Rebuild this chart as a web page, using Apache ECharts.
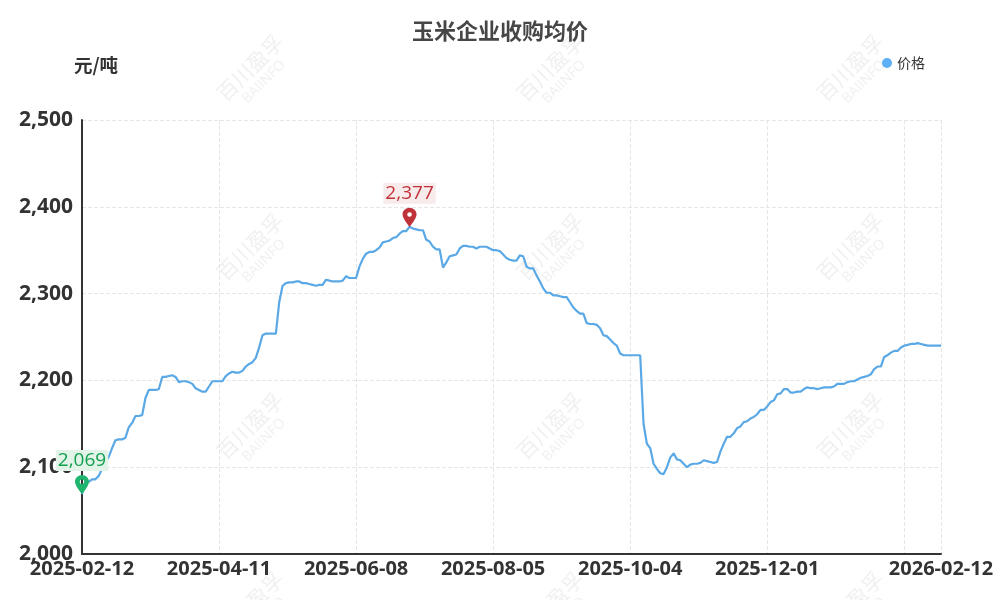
<!DOCTYPE html>
<html>
<head>
<meta charset="utf-8">
<style>html,body{margin:0;padding:0;background:#fff}#main{width:1000px;height:600px}</style>
<script src="https://cdn.jsdelivr.net/npm/echarts@6/dist/echarts.min.js"></script>
</head>
<body>
<div id="main"></div>
<script>
var dates = [
  '2025-02-12','2025-02-13','2025-02-14','2025-02-17','2025-02-18','2025-02-19','2025-02-20','2025-02-21','2025-02-24','2025-02-25','2025-02-26','2025-02-27','2025-02-28',
  '2025-03-03','2025-03-04','2025-03-05','2025-03-06','2025-03-07','2025-03-10','2025-03-11','2025-03-12','2025-03-13','2025-03-14','2025-03-17','2025-03-18','2025-03-19','2025-03-20','2025-03-21','2025-03-24','2025-03-25','2025-03-26','2025-03-27','2025-03-28','2025-03-31',
  '2025-04-01','2025-04-02','2025-04-03','2025-04-07','2025-04-08','2025-04-09','2025-04-10','2025-04-11','2025-04-14','2025-04-15','2025-04-16','2025-04-17','2025-04-18','2025-04-21','2025-04-22','2025-04-23','2025-04-24','2025-04-25','2025-04-28','2025-04-29','2025-04-30',
  '2025-05-01','2025-05-02','2025-05-05','2025-05-06','2025-05-07','2025-05-08','2025-05-09','2025-05-12','2025-05-13','2025-05-14','2025-05-15','2025-05-16','2025-05-19','2025-05-20','2025-05-21','2025-05-22','2025-05-23','2025-05-26','2025-05-27','2025-05-28','2025-05-29','2025-05-30',
  '2025-06-02','2025-06-03','2025-06-04','2025-06-05','2025-06-06','2025-06-08','2025-06-10','2025-06-11','2025-06-12','2025-06-13','2025-06-16','2025-06-17','2025-06-18','2025-06-19','2025-06-20','2025-06-23','2025-06-24','2025-06-25','2025-06-26','2025-06-27','2025-06-30',
  '2025-07-01','2025-07-02','2025-07-03','2025-07-04','2025-07-07','2025-07-08','2025-07-09','2025-07-10','2025-07-11','2025-07-14','2025-07-15','2025-07-16','2025-07-17','2025-07-18','2025-07-21','2025-07-22','2025-07-23','2025-07-24','2025-07-25','2025-07-28','2025-07-29','2025-07-30','2025-07-31',
  '2025-08-01','2025-08-04','2025-08-05','2025-08-06','2025-08-07','2025-08-08','2025-08-11','2025-08-12','2025-08-13','2025-08-14','2025-08-15','2025-08-18','2025-08-19','2025-08-20','2025-08-21','2025-08-22','2025-08-25','2025-08-26','2025-08-27','2025-08-28','2025-08-29',
  '2025-09-01','2025-09-02','2025-09-03','2025-09-04','2025-09-05','2025-09-08','2025-09-09','2025-09-10','2025-09-11','2025-09-12','2025-09-15','2025-09-16','2025-09-17','2025-09-18','2025-09-19','2025-09-22','2025-09-23','2025-09-24','2025-09-25','2025-09-26','2025-09-29','2025-09-30',
  '2025-10-04','2025-10-06','2025-10-07','2025-10-08','2025-10-09','2025-10-10','2025-10-13','2025-10-14','2025-10-15','2025-10-16','2025-10-17','2025-10-20','2025-10-21','2025-10-22','2025-10-23','2025-10-24','2025-10-27','2025-10-28','2025-10-29','2025-10-30','2025-10-31',
  '2025-11-03','2025-11-04','2025-11-05','2025-11-06','2025-11-07','2025-11-10','2025-11-11','2025-11-12','2025-11-13','2025-11-14','2025-11-17','2025-11-18','2025-11-19','2025-11-20','2025-11-21','2025-11-24','2025-11-25','2025-11-26','2025-11-27','2025-11-28',
  '2025-12-01','2025-12-02','2025-12-03','2025-12-04','2025-12-05','2025-12-08','2025-12-09','2025-12-10','2025-12-11','2025-12-12','2025-12-15','2025-12-16','2025-12-17','2025-12-18','2025-12-19','2025-12-22','2025-12-23','2025-12-24','2025-12-25','2025-12-26','2025-12-29','2025-12-30','2025-12-31',
  '2026-01-02','2026-01-05','2026-01-06','2026-01-07','2026-01-08','2026-01-09','2026-01-12','2026-01-13','2026-01-14','2026-01-15','2026-01-16','2026-01-19','2026-01-20','2026-01-21','2026-01-22','2026-01-23','2026-01-26','2026-01-27','2026-01-28','2026-01-29','2026-01-30',
  '2026-02-02','2026-02-03','2026-02-04','2026-02-05','2026-02-06','2026-02-09','2026-02-10','2026-02-11','2026-02-12'
];
var prices = [
  2069,2083,2083,2086,2086,2090,2098,2105,2112,2122,2131,2132,2132,2134,2146,2151,2159,2159,2160,2180,
  2189,2189,2189,2190,2204,2204,2205,2206,2204,2198,2199,2199,2198,2196,2191,2189,2187,2187,2193,2199,
  2199,2199,2199,2205,2208,2210,2209,2209,2211,2216,2219,2221,2226,2238,2252,2254,2254,2254,2254,2290,
  2309,2312,2313,2313,2314,2314,2312,2312,2311,2310,2309,2310,2310,2316,2315,2314,2314,2314,2315,2320,
  2318,2318,2318,2331,2340,2346,2348,2348,2350,2353,2359,2360,2361,2364,2365,2369,2372,2372,2377,2375,
  2374,2373,2373,2362,2360,2354,2351,2351,2330,2336,2343,2344,2345,2352,2355,2355,2354,2354,2352,2354,
  2354,2354,2352,2350,2350,2349,2345,2341,2339,2338,2338,2344,2343,2331,2329,2329,2321,2314,2306,2301,
  2301,2298,2298,2297,2296,2296,2290,2284,2280,2277,2277,2266,2265,2265,2264,2260,2252,2251,2247,2243,
  2240,2231,2229,2229,2229,2229,2229,2229,2150,2127,2122,2104,2098,2093,2092,2100,2111,2116,2109,2108,
  2104,2100,2103,2104,2104,2105,2108,2107,2106,2105,2106,2118,2127,2135,2135,2139,2145,2147,2152,2153,
  2156,2158,2161,2166,2166,2170,2175,2177,2184,2185,2190,2190,2186,2186,2187,2187,2190,2192,2191,2191,
  2190,2191,2192,2192,2192,2193,2196,2196,2196,2198,2199,2199,2201,2203,2204,2205,2207,2213,2216,2216,
  2227,2229,2232,2234,2234,2238,2240,2241,2242,2242,2243,2242,2241,2240,2240,2240,2240,2240
];
var seriesName = '价格';
var yTicks = [2000, 2100, 2200, 2300, 2400, 2500];

var font = '"Noto Sans CJK SC", "Noto Sans", sans-serif';
var numFont = '"Open Sans", "Noto Sans", sans-serif';
var last = dates.length - 1;
var pin = 'path://M12 0C5.4 0 0 5.4 0 12c0 8 12 22 12 22s12-14 12-22C24 5.4 18.6 0 12 0z M12 8a4 4 0 0 1 0 8a4 4 0 0 1 0-8z';

// watermark tiles behind the plot
var marks = [];
[254, 554, 854].forEach(function (x) {
    [72, 251, 430, 609].forEach(function (y) {
        marks.push({
            type: 'group', x: x, y: y, rotation: Math.PI / 4, z: 0, silent: true,
            children: [
                {type: 'text', x: 0, y: -6, style: {text: '百川盈孚', fontFamily: font, fontSize: 21, fill: '#f0f0f0', align: 'center', verticalAlign: 'middle'}},
                {type: 'text', x: 0, y: 14, style: {text: 'BAIINFO', fontFamily: numFont, fontSize: 14, fill: '#f0f0f0', align: 'center', verticalAlign: 'middle'}}
            ]
        });
    });
});

function showTick(i) {
    return i % 41 === 0 || i === last;
}

var chart = echarts.init(document.getElementById('main'));
chart.setOption({
    animation: false,
    backgroundColor: '#fff',
    textStyle: {fontFamily: font},
    title: {
        text: '玉米企业收购均价',
        left: 'center',
        top: 15,
        textStyle: {fontFamily: font, fontSize: 22, fontWeight: 'bold', color: '#464646'}
    },
    legend: {
        data: [{name: seriesName, icon: 'circle'}],
        right: 70,
        top: 51,
        itemWidth: 10,
        itemHeight: 10,
        itemGap: 6,
        textStyle: {fontFamily: font, fontSize: 14, color: '#333'}
    },
    graphic: marks,
    grid: {left: 82, right: 59, top: 120, bottom: 46, containLabel: false},
    xAxis: {
        type: 'category',
        boundaryGap: false,
        data: dates,
        axisLine: {lineStyle: {color: '#333', width: 2}},
        axisTick: {show: false},
        axisLabel: {
            interval: function (i) { return showTick(i) && i !== 246; },
            showMinLabel: true,
            showMaxLabel: true,
            hideOverlap: false,
            margin: 5,
            fontFamily: numFont,
            fontSize: 20,
            fontWeight: 'bold',
            color: '#333'
        },
        splitLine: {show: true, interval: showTick, lineStyle: {type: 'dashed', color: '#e6e6e6'}}
    },
    yAxis: {
        type: 'value',
        name: '元/吨',
        nameLocation: 'end',
        nameGap: 46,
        nameTextStyle: {fontFamily: font, fontSize: 18.5, fontWeight: 'bold', color: '#333', align: 'center', padding: [0, 0, 0, 28]},
        min: yTicks[0],
        max: yTicks[yTicks.length - 1],
        interval: 100,
        axisLine: {show: true, lineStyle: {color: '#333', width: 2}},
        axisTick: {show: false},
        axisLabel: {
            margin: 9,
            padding: [0, 0, 3, 0],
            fontFamily: numFont,
            fontSize: 21,
            fontWeight: 'bold',
            color: '#333',
            formatter: function (v) { return v.toLocaleString('en-US'); }
        },
        splitLine: {show: true, lineStyle: {type: 'dashed', color: '#e6e6e6'}}
    },
    series: [{
        name: seriesName,
        type: 'line',
        data: prices,
        showSymbol: false,
        symbol: 'none',
        z: 3,
        itemStyle: {color: '#5cb0f5'},
        lineStyle: {color: '#5aa9e6', width: 2.2},
        markPoint: {
            symbol: pin,
            symbolSize: [14, 19],
            symbolOffset: [0, '-50%'],
            z: 10,
            label: {
                position: 'top',
                distance: 4,
                fontFamily: numFont,
                fontSize: 19,
                padding: [1, 2],
                formatter: function (p) { return p.value.toLocaleString('en-US'); }
            },
            data: [
                {type: 'max', itemStyle: {color: '#c0323a'}, label: {color: '#c0323a', backgroundColor: '#f8ebeb'}},
                {type: 'min', itemStyle: {color: '#1fb56e'}, label: {color: '#13a04e', backgroundColor: '#e2f4e8'}}
            ]
        }
    }]
});
</script>
</body>
</html>
